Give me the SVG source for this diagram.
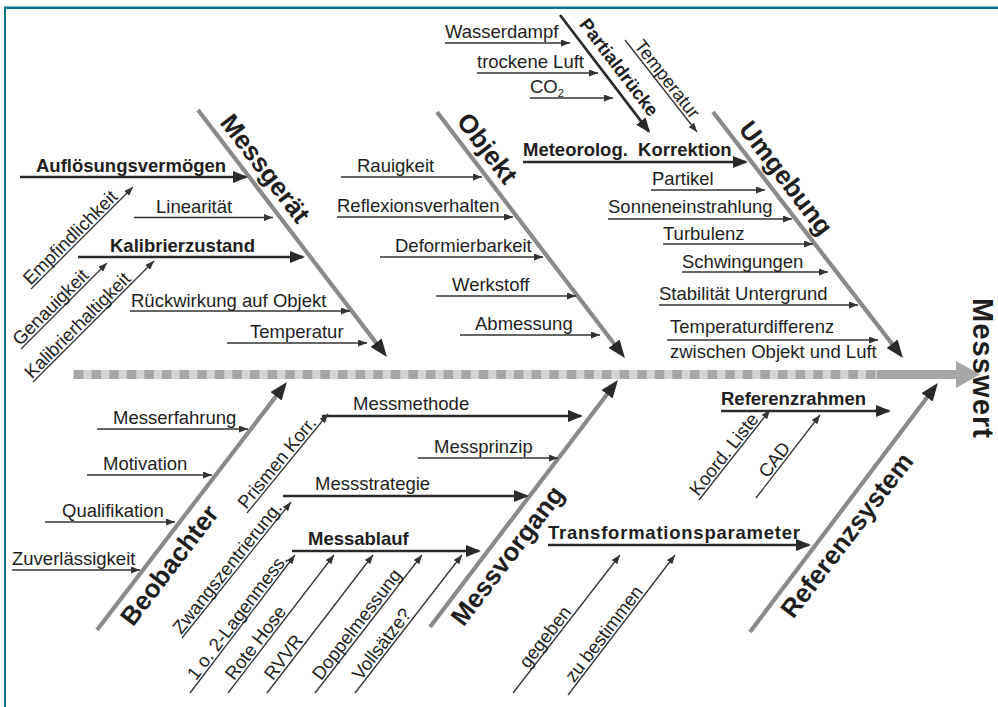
<svg xmlns="http://www.w3.org/2000/svg" width="998" height="707" viewBox="0 0 998 707">
<style>
text{font-family:"Liberation Sans",Arial,Helvetica,sans-serif;fill:#1e1e1e;font-size:18.5px}
.b{font-weight:bold}
.big{font-weight:bold;font-size:26px}
.mw{font-weight:bold;font-size:29px}
.thin{stroke:#333;stroke-width:1.3;fill:none;marker-end:url(#msm)}
.thick{stroke:#2a2a2a;stroke-width:2.7;fill:none;marker-end:url(#mmd)}
.bone{stroke:#8a8a8a;stroke-width:4.2;fill:none;marker-end:url(#mbone)}
.frame{stroke:#0b7390;fill:none}
</style>
<defs>
<marker id="msm" markerUnits="userSpaceOnUse" markerWidth="9" markerHeight="7" refX="9" refY="3.5" orient="auto"><path d="M0,0 L9,3.5 L0,7 z" fill="#333"/></marker>
<marker id="mmd" markerUnits="userSpaceOnUse" markerWidth="15" markerHeight="12" refX="13" refY="6" orient="auto"><path d="M0,0 L15,6 L0,12 z" fill="#2a2a2a"/></marker>
<marker id="mbone" markerUnits="userSpaceOnUse" markerWidth="18" markerHeight="14" refX="8" refY="7" orient="auto"><path d="M0,0 L18,7 L0,14 z" fill="#2a2a2a"/></marker>
</defs>
<rect width="998" height="707" fill="#fff"/>
<line class="frame" x1="4" y1="7.8" x2="998" y2="7.8" stroke-width="2.4"/>
<line class="frame" x1="5" y1="7" x2="5" y2="707" stroke-width="2"/>

<g id="spine">
<line x1="73" y1="374.5" x2="878" y2="374.5" stroke="#d4d4d4" stroke-width="9"/>
<line x1="74" y1="374.5" x2="878" y2="374.5" stroke="#a6a6a6" stroke-width="9" stroke-dasharray="9.5 8.1"/>
<line x1="877" y1="374.5" x2="958" y2="374.5" stroke="#a6a6a6" stroke-width="9"/>
<path d="M956,361 L980,374.5 L956,388 z" fill="#a6a6a6"/>
</g>

<g id="connectors">
<line class="bone" x1="198" y1="110" x2="380.9" y2="349.1"/>
<line class="bone" x1="437" y1="112" x2="618.9" y2="350.1"/>
<line class="bone" x1="713" y1="112" x2="896.9" y2="350.1"/>
<line class="bone" x1="97" y1="630" x2="280.9" y2="389.9"/>
<line class="bone" x1="430" y1="627" x2="611.9" y2="387.9"/>
<line class="bone" x1="750" y1="632" x2="931.9" y2="390.9"/>
<line class="thick" x1="560" y1="15" x2="648.8" y2="131.4" stroke-width="2.5"/>

<line class="thick" x1="20" y1="177" x2="246" y2="177"/>
<line class="thick" x1="78" y1="257" x2="303" y2="257"/>
<line class="thick" x1="523" y1="162" x2="746" y2="162"/>
<line class="thick" x1="322" y1="416" x2="581" y2="416"/>
<line class="thick" x1="283" y1="496" x2="527" y2="496"/>
<line class="thick" x1="292" y1="551" x2="479" y2="551"/>
<line class="thick" x1="548" y1="545" x2="809" y2="545"/>
<line class="thick" x1="721" y1="411" x2="889" y2="411"/>

<line class="thin" x1="134" y1="217.5" x2="273" y2="217.5"/>
<line class="thin" x1="130" y1="311" x2="350" y2="311"/>
<line class="thin" x1="227" y1="343" x2="367" y2="343"/>
<line class="thin" x1="341" y1="177" x2="482" y2="177"/>
<line class="thin" x1="337" y1="217" x2="513" y2="217"/>
<line class="thin" x1="380" y1="257" x2="543" y2="257"/>
<line class="thin" x1="436" y1="296" x2="576" y2="296"/>
<line class="thin" x1="460" y1="335" x2="600" y2="335"/>
<line class="thin" x1="445" y1="43" x2="570" y2="43"/>
<line class="thin" x1="477" y1="73" x2="598" y2="73"/>
<line class="thin" x1="530" y1="98" x2="613" y2="98"/>
<line class="thin" x1="651" y1="190" x2="765" y2="190"/>
<line class="thin" x1="608" y1="219" x2="792" y2="219"/>
<line class="thin" x1="663" y1="244" x2="813" y2="244"/>
<line class="thin" x1="682" y1="272" x2="828" y2="272"/>
<line class="thin" x1="659" y1="305" x2="858" y2="305"/>
<line class="thin" x1="667" y1="340" x2="878" y2="340"/>
<line class="thin" x1="97" y1="429" x2="248" y2="429"/>
<line class="thin" x1="87" y1="475" x2="212" y2="475"/>
<line class="thin" x1="45" y1="522" x2="175" y2="522"/>
<line class="thin" x1="12" y1="570" x2="140" y2="570"/>
<line class="thin" x1="418" y1="458" x2="558" y2="458"/>

<line class="thin" x1="31" y1="289" x2="133" y2="187"/>
<line class="thin" x1="21" y1="349" x2="107" y2="263"/>
<line class="thin" x1="33" y1="382" x2="154" y2="261"/>
<line class="thin" x1="625" y1="40" x2="697" y2="132"/>
<line class="thin" x1="247" y1="513" x2="328" y2="414"/>
<line class="thin" x1="182" y1="638" x2="291" y2="502"/>
<line class="thin" x1="190" y1="693" x2="295" y2="555"/>
<line class="thin" x1="228" y1="693" x2="334" y2="555"/>
<line class="thin" x1="267" y1="693" x2="373" y2="555"/>
<line class="thin" x1="315" y1="693" x2="422" y2="555"/>
<line class="thin" x1="355" y1="693" x2="462" y2="555"/>
<line class="thin" x1="513" y1="693" x2="620" y2="555"/>
<line class="thin" x1="568" y1="695" x2="675" y2="555"/>
<line class="thin" x1="699" y1="500" x2="770" y2="410"/>
<line class="thin" x1="756" y1="498" x2="820" y2="415"/>
</g>

<g id="messgeraet">
<text class="big" transform="translate(219.1,122.8) rotate(52.6)">Messgerät</text>
<text class="b" x="36" y="172">Auflösungsvermögen</text>
<text x="156" y="213">Linearität</text>
<text class="b" x="110" y="252">Kalibrierzustand</text>
<text x="131" y="307">Rückwirkung auf Objekt</text>
<text x="250" y="338">Temperatur</text>
<text transform="translate(30.6,285.8) rotate(-45)">Empfindlichkeit</text>
<text transform="translate(19.9,346.5) rotate(-45)">Genauigkeit</text>
<text transform="translate(31.9,379.5) rotate(-45)">Kalibrierhaltigkeit</text>
</g>

<g id="objekt">
<text class="big" transform="translate(455.7,121.6) rotate(52.6)">Objekt</text>
<text x="357" y="172">Rauigkeit</text>
<text x="337" y="212">Reflexionsverhalten</text>
<text x="395" y="252">Deformierbarkeit</text>
<text x="452" y="291">Werkstoff</text>
<text x="475" y="330">Abmessung</text>
</g>

<g id="umgebung">
<text class="big" transform="translate(737.8,129.6) rotate(52.6)">Umgebung</text>
<text class="b" transform="translate(578.5,24.5) rotate(52.7)">Partialdrücke</text>
<text transform="translate(633.5,46) rotate(52)">Temperatur</text>
<text x="445" y="38">Wasserdampf</text>
<text x="477" y="68">trockene Luft</text>
<text x="530" y="93">CO<tspan font-size="11" dy="4">2</tspan></text>
<text class="b" x="523" y="156">Meteorolog.&#160; Korrektion</text>
<text x="652" y="185">Partikel</text>
<text x="608" y="213">Sonneneinstrahlung</text>
<text x="663" y="240">Turbulenz</text>
<text x="682" y="268">Schwingungen</text>
<text x="659" y="300">Stabilität Untergrund</text>
<text x="670" y="333">Temperaturdifferenz</text>
<text x="670" y="358">zwischen Objekt und Luft</text>
</g>

<g id="beobachter">
<text class="big" transform="translate(133,627.4) rotate(-52.6)">Beobachter</text>
<text x="113" y="424">Messerfahrung</text>
<text x="103" y="470">Motivation</text>
<text x="62" y="517">Qualifikation</text>
<text x="12" y="565">Zuverlässigkeit</text>
</g>

<g id="messvorgang">
<text class="big" transform="translate(463.6,627.5) rotate(-52.6)">Messvorgang</text>
<text x="353" y="410">Messmethode</text>
<text x="434" y="453">Messprinzip</text>
<text x="315" y="490">Messstrategie</text>
<text class="b" x="308" y="545">Messablauf</text>
<text transform="translate(246.3,509.9) rotate(-50.7)">Prismen Korr.</text>
<text transform="translate(181.3,634.9) rotate(-51.3)">Zwangszentrierung.</text>
<text transform="translate(195.9,681.2) rotate(-52.7)">1 o. 2-Lagenmess.</text>
<text transform="translate(233.9,681.2) rotate(-52.5)">Rote Hose</text>
<text transform="translate(272.9,681.2) rotate(-52.5)">RVVR</text>
<text transform="translate(320.9,681.2) rotate(-52.5)">Doppelmessung</text>
<text transform="translate(360.9,681.2) rotate(-52.5)">Vollsätze?</text>
</g>

<g id="referenzsystem">
<text class="big" transform="translate(793.3,619.8) rotate(-52.6)">Referenzsystem</text>
<text class="b" x="548" y="539" textLength="252">Transformationsparameter</text>
<text transform="translate(528,669.2) rotate(-52.2)">gegeben</text>
<text transform="translate(573.9,683.2) rotate(-52.6)">zu bestimmen</text>
<text class="b" x="721" y="405">Referenzrahmen</text>
<text transform="translate(698.3,496.9) rotate(-51.7)">Koord. Liste</text>
<text transform="translate(767.4,479) rotate(-52.4)">CAD</text>
</g>

<g id="messwert">
<text class="mw" textLength="140" transform="translate(973,298) rotate(90)">Messwert</text>
</g>
</svg>
